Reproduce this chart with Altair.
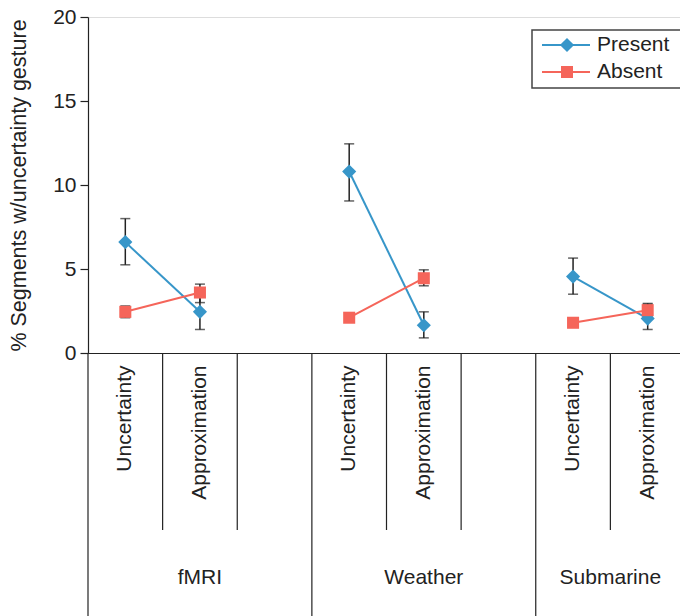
import altair as alt
import pandas as pd

# ---------------- data ----------------
groups = ["fMRI", "Weather", "Submarine"]
group_has_blank = [True, True, False]
conditions = ["Uncertainty", "Approximation"]
series = ["Present", "Absent"]
colors = ["#3796c9", "#f5655a"]
shapes = ["diamond", "square"]

# values in order: fMRI-U, fMRI-A, Weather-U, Weather-A, Submarine-U, Submarine-A
present_mean = [6.6, 2.45, 10.8, 1.65, 4.55, 2.05]
present_lo = [5.25, 1.4, 9.05, 0.9, 3.5, 1.4]
present_hi = [8.0, 3.45, 12.45, 2.45, 5.65, 2.95]
absent_mean = [2.45, 3.6, 2.1, 4.45, 1.8, 2.55]
absent_lo = [2.1, 3.0, 1.9, 4.0, 1.6, 2.2]
absent_hi = [2.8, 4.1, 2.3, 4.95, 2.0, 2.9]

y_ticks = [0, 5, 10, 15, 20]
y_title = "% Segments w/uncertainty gesture"

# ---------------- tables ----------------
slots = []
group_first_slot = []
group_label_slot = []
group_label_band = []
for g, blank in zip(groups, group_has_blank):
    gs = [f"{g}|{c}" for c in conditions] + ([f"{g}|"] if blank else [])
    group_first_slot.append(gs[0])
    n = len(gs)
    half = n / 2
    group_label_slot.append(gs[int(half)])
    group_label_band.append(half - int(half))
    slots += gs

rows = []
i = 0
for g in groups:
    for c in conditions:
        rows.append(dict(slot=f"{g}|{c}", group=g, series="Present",
                         mean=present_mean[i], lo=present_lo[i], hi=present_hi[i]))
        rows.append(dict(slot=f"{g}|{c}", group=g, series="Absent",
                         mean=absent_mean[i], lo=absent_lo[i], hi=absent_hi[i]))
        i += 1
df = pd.DataFrame(rows)

slot_df = pd.DataFrame({"slot": [s for s in slots if s not in group_first_slot]})
gsep_df = pd.DataFrame({"slot": group_first_slot})
glab_df = pd.DataFrame({"slot": group_label_slot, "label": groups, "band": group_label_band})

W = 592          # visible plot width (chart is cut at the window's right edge)
RANGE_W = 597    # full extent of the slot axis (runs past the right edge)
H = 336
FONT = "Liberation Sans"
TXT = "#222222"
FS = 21

xscale = alt.Scale(type="band", domain=slots, paddingInner=0, paddingOuter=0,
                   round=False, range=[0, RANGE_W])
xaxis = alt.Axis(title=None, ticks=False, grid=False, domainColor=TXT, domainWidth=1.2,
                 labelExpr="split(datum.value, '|')[1]", labelAngle=270,
                 labelAlign="right", labelBaseline="middle", labelPadding=12,
                 labelFontSize=FS, labelColor=TXT, labelFont=FONT)
yscale = alt.Scale(domain=[0, 20], nice=False, zero=True)
yaxis = alt.Axis(title=y_title, values=y_ticks, grid=False, domainColor=TXT, domainWidth=1.2,
                 tickColor=TXT, tickSize=8, tickWidth=1.2, labelFontSize=FS, labelColor=TXT,
                 labelPadding=4, labelFont=FONT, titleFont=FONT, titleFontSize=21.5,
                 titleFontWeight="normal", titleColor=TXT, titlePadding=22)


def X(band=0.5):
    return alt.X("slot:N", scale=xscale, axis=xaxis, bandPosition=band)


color = alt.Color("series:N", scale=alt.Scale(domain=series, range=colors), legend=None)
shape = alt.Shape("series:N", scale=alt.Scale(domain=series, range=shapes), legend=None)

base = alt.Chart(df)

err = base.mark_rule(color=TXT, strokeWidth=1.5).encode(
    x=X(), y=alt.Y("lo:Q", scale=yscale, axis=yaxis), y2="hi:Q")
cap_lo = base.mark_tick(color=TXT, size=10, thickness=1.5).encode(
    x=X(), y=alt.Y("lo:Q", scale=yscale, axis=yaxis))
cap_hi = base.mark_tick(color=TXT, size=10, thickness=1.5).encode(
    x=X(), y=alt.Y("hi:Q", scale=yscale, axis=yaxis))
lines = base.mark_line(strokeWidth=2).encode(
    x=X(), y=alt.Y("mean:Q", scale=yscale, axis=yaxis), color=color,
    detail=alt.Detail("group:N"), order=alt.Order("slot:N"))
points = base.mark_point(filled=True, opacity=1, strokeWidth=0).encode(
    x=X(), y=alt.Y("mean:Q", scale=yscale, axis=yaxis), color=color, shape=shape,
    size=alt.condition(alt.datum.series == "Present", alt.value(200), alt.value(145)))

sub_sep = alt.Chart(slot_df).mark_rule(color=TXT, strokeWidth=1.2).encode(
    x=X(0), y=alt.value(H), y2=alt.value(H + 177))
grp_sep = alt.Chart(gsep_df).mark_rule(color=TXT, strokeWidth=1.2).encode(
    x=X(0), y=alt.value(H), y2=alt.value(H + 270))
glab_mid = alt.Chart(glab_df).transform_filter(alt.datum.band > 0).mark_text(
    fontSize=FS, font=FONT, color=TXT, baseline="middle").encode(
    x=X(0.5), y=alt.value(561), text="label:N")
glab_edge = alt.Chart(glab_df).transform_filter(alt.datum.band == 0).mark_text(
    fontSize=FS, font=FONT, color=TXT, baseline="middle").encode(
    x=X(0), y=alt.value(561), text="label:N")

# legend box
box_df = pd.DataFrame({"k": [0]})
legend_layers = [
    alt.Chart(box_df).mark_rect(fill="white", stroke="#444444", strokeWidth=1.5).encode(
        x=alt.value(444), x2=alt.value(630), y=alt.value(13), y2=alt.value(71))
]
for k, (s, c, sh) in enumerate(zip(series, colors, shapes)):
    ld = pd.DataFrame({"series": [s]})
    yy = 28 + 27 * k
    legend_layers.append(alt.Chart(ld).mark_rule(color=c, strokeWidth=2).encode(
        x=alt.value(454), x2=alt.value(502), y=alt.value(yy)))
    legend_layers.append(alt.Chart(ld).mark_point(filled=True, opacity=1, strokeWidth=0,
                                                  shape=sh, color=c,
                                                  size=200 if sh == "diamond" else 145).encode(
        x=alt.value(479), y=alt.value(yy)))
    legend_layers.append(alt.Chart(ld).mark_text(fontSize=FS, font=FONT, color=TXT,
                                                 align="left", baseline="middle").encode(
        x=alt.value(509), y=alt.value(yy), text="series:N"))

chart = alt.layer(
    sub_sep, grp_sep, glab_mid, glab_edge, err, cap_lo, cap_hi, lines, points, *legend_layers
).properties(
    width=W, height=H,
    padding={"left": 88, "top": 17, "right": 0, "bottom": 263},
    autosize=alt.AutoSizeParams(type="none"),
).configure_view(stroke=None).configure(font=FONT, background="white")

chart.save("out.html", embed_options={"renderer": "svg", "actions": False})
